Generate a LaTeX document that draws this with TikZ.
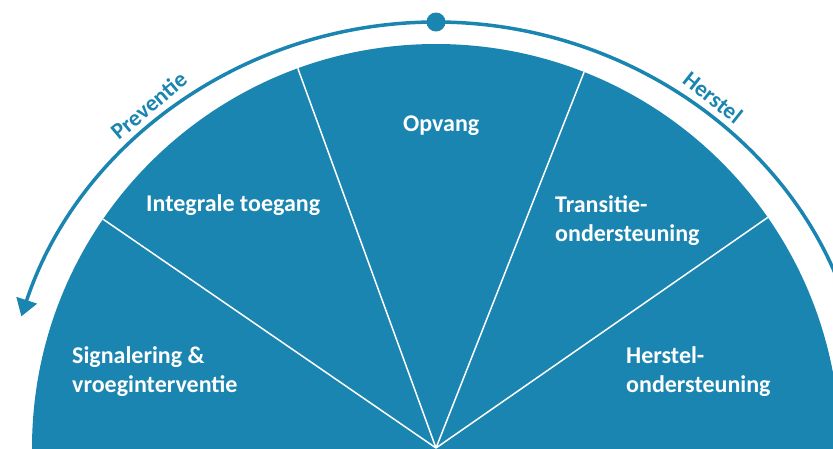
\documentclass[tikz,border=0pt]{standalone}
\usepackage{fontspec}
\setmainfont{Carlito}
\usetikzlibrary{arrows.meta}
\definecolor{myblue}{RGB}{26,133,176}
\begin{document}
\begin{tikzpicture}[x=1pt,y=1pt,
  lbl/.style={text=white, font=\bfseries\fontsize{24}{29}\selectfont, inner sep=0pt, anchor=base west},
  arclbl/.style={text=myblue, font=\bfseries\fontsize{23}{28}\selectfont, inner sep=0pt, anchor=base},
  divider/.style={draw=white, line width=1.5pt},
  ring/.style={draw=myblue, line width=3.5pt},
  tiparrow/.style={-{Triangle[width=21pt,length=17pt]}},
]
\useasboundingbox (0,0) rectangle (833,-448);
\clip (0,0) rectangle (833,-448);
\coordinate (C) at (436,-448);
\fill[myblue] (C) circle[radius=404];
\foreach \a/\n in {34.8/d1, 68.5/d2, 110/d3, 145.5/d4} {
  \coordinate (\n) at ([shift={(\a:404)}]C);
  \draw[divider] (C) -- (\n);
}
\node[circle, fill=myblue, minimum size=19pt, inner sep=0pt] (top) at (436,-22) {};
\draw[ring, tiparrow] (top.center) arc[start angle=90, end angle=162, x radius=436, y radius=426];
\draw[ring, tiparrow] (top.center) arc[start angle=90, end angle=18, x radius=436, y radius=426];
\node[arclbl, rotate=40] (prev) at ([shift={(130:439)}]C) {Preventie};
\node[arclbl, rotate=-38.3] (herl) at ([shift={(51.7:439)}]C) {Herstel};
\node[lbl] (opvang) at (403,-131) {Opvang};
\node[lbl] (integ) at (146,-211) {Integrale toegang};
\node[lbl] (sig) at (72,-363) {\begin{tabular}[t]{@{}l@{}}Signalering \&\\vroeginterventie\end{tabular}};
\node[lbl] (trans) at (555,-212) {\begin{tabular}[t]{@{}l@{}}Transitie-\\ondersteuning\end{tabular}};
\node[lbl] (herst) at (626,-363) {\begin{tabular}[t]{@{}l@{}}Herstel-\\ondersteuning\end{tabular}};
\end{tikzpicture}
\end{document}
